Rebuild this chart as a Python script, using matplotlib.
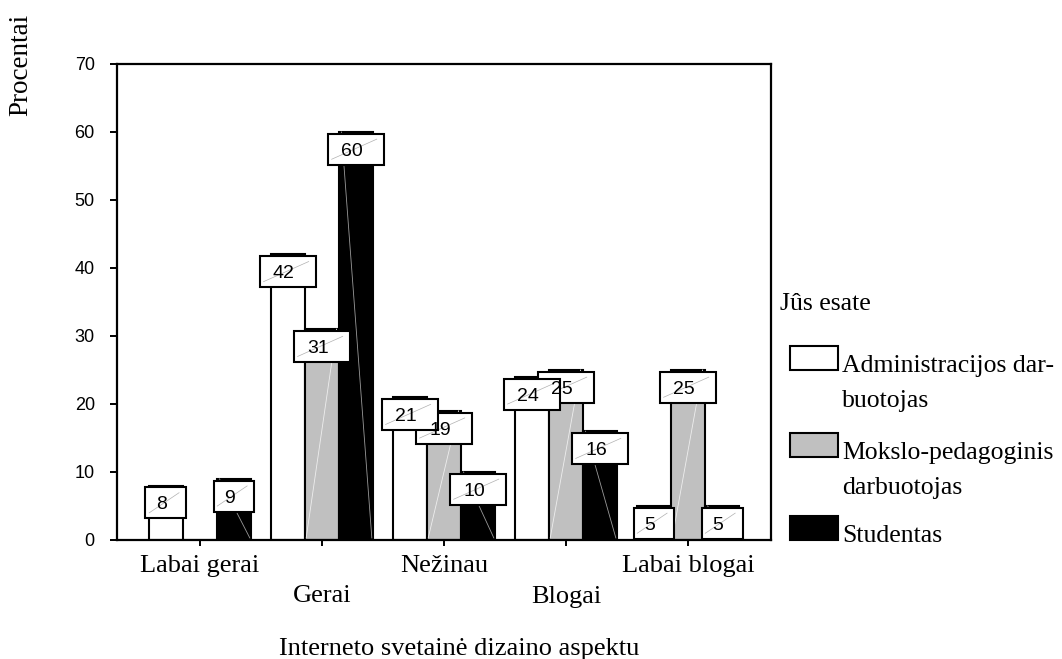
import matplotlib
matplotlib.use("Agg")
import matplotlib.pyplot as plt
from matplotlib.patches import Rectangle
import numpy as np

# --- data -------------------------------------------------------------
categories = ["Labai gerai", "Gerai", "Nežinau", "Blogai", "Labai blogai"]
series_names = ["Administracijos dar-\nbuotojas",
                "Mokslo-pedagoginis\ndarbuotojas",
                "Studentas"]
admin = [8, 42, 21, 24, 5]
mokslo = [0, 31, 19, 25, 25]
studentai = [9, 60, 10, 16, 5]
y_ticks = [0, 10, 20, 30, 40, 50, 60, 70]

series = [admin, mokslo, studentai]
fills = ["white", "#c0c0c0", "black"]

SERIF = "Liberation Serif"
SANS = "Liberation Sans"

W, H = 1062, 659
fig = plt.figure(figsize=(W / 100, H / 100), dpi=100)


def fx(px):
    return px / W


def fy(py):
    return 1 - py / H


ax = fig.add_axes([fx(117), fy(540), fx(771) - fx(117), fy(64) - fy(540)])
ax.set_xlim(-0.68, 4.68)
ax.set_ylim(0, 70)
for s in ax.spines.values():
    s.set_linewidth(1.6)
    s.set_color("black")

ax.set_yticks(y_ticks)
ax.set_yticklabels([str(v) for v in y_ticks], fontfamily=SANS, fontsize=13)
ax.tick_params(axis="y", direction="out", length=5, width=1.4, pad=11)
ax.set_xticks(range(len(categories)))
ax.set_xticklabels([])
ax.tick_params(axis="x", direction="out", length=4.5, width=1.4)

bw = 0.279
x = np.arange(len(categories))
box_h = 4.56

for k, (vals, fc) in enumerate(zip(series, fills)):
    xs = x + (k - 1) * bw
    ax.bar(xs, vals, width=bw, color=fc, edgecolor="black",
           linewidth=1.5, zorder=2)
    for xi, v in zip(xs, vals):
        if v <= 0:
            continue
        left, right = xi - bw / 2, xi + bw / 2
        # faint streaks from the gradient fill
        if fc == "black":
            ax.plot([left + 0.02, right - 0.01], [v, 0.3], color="#9a9a9a",
                    lw=0.6, zorder=2.5)
        elif fc != "white":
            ax.plot([left + 0.01, right - 0.02], [0.3, v], color="#eeeeee",
                    lw=0.6, zorder=2.5)
        # value label box hanging from the top of the bar
        label = str(v)
        bwid = 0.21 + 0.125 * len(label)
        top = v - 0.25
        rect = Rectangle((xi - bwid / 2, top - box_h), bwid, box_h,
                         facecolor="white", edgecolor="black", linewidth=1.5,
                         zorder=5 - k)
        ax.add_patch(rect)
        ax.plot([xi - bwid / 2 + 0.03, xi + bwid / 2 - 0.06],
                [top - box_h + 0.8, top - 0.8], color="#b0b0b0", lw=0.5,
                zorder=5 - k + 0.1)
        ax.annotate(label, (xi, top - box_h / 2), xytext=(-3, -1.5),
                    textcoords="offset points", ha="center", va="center",
                    fontfamily=SANS, fontsize=14, zorder=10)

# staggered category labels
for i, name in enumerate(categories):
    off = 23 if i % 2 == 0 else 45
    ax.annotate(name, xy=(i, 0), xycoords=("data", "axes fraction"),
                xytext=(0, -off), textcoords="offset points",
                ha="center", va="baseline", fontfamily=SERIF, fontsize=19)

fig.text(fx(459), fy(655), "Interneto svetainė dizaino aspektu",
         ha="center", va="baseline", fontfamily=SERIF, fontsize=19)
fig.text(fx(21), fy(65), "Procentai", rotation=90, ha="center", va="center",
         fontfamily=SERIF, fontsize=19.5)

# legend
fig.text(fx(780), fy(310), "Jûs esate", ha="left", va="baseline",
         fontfamily=SERIF, fontsize=18.5)
entry_base = [370, 457, 540]
for (name, fc, base) in zip(series_names, fills, entry_base):
    r = Rectangle((fx(790), fy(base)), fx(838) - fx(790), fy(base - 24) - fy(base),
                  transform=fig.transFigure, facecolor=fc, edgecolor="black",
                  linewidth=1.5)
    fig.add_artist(r)
    lines = name.split("\n")
    for j, ln in enumerate(lines):
        fig.text(fx(842), fy(base + 2 + 35 * j), ln, ha="left", va="baseline",
                 fontfamily=SERIF, fontsize=18.5)

fig.savefig("out.png", dpi=100)
